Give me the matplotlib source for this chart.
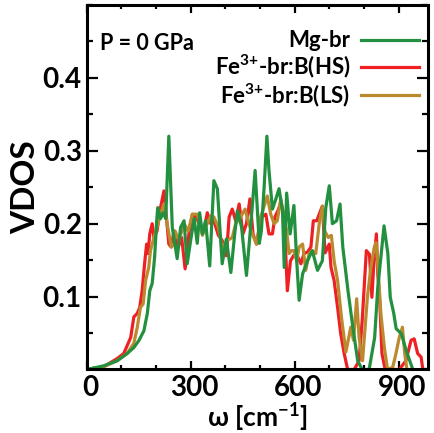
import matplotlib
matplotlib.use("Agg")
from matplotlib import pyplot as plt
from matplotlib.ticker import MultipleLocator, FixedLocator
from matplotlib.transforms import ScaledTranslation

# Mg-br (green)
mg_w = [0, 49, 88, 117, 136, 151, 165, 175, 182, 189, 196, 202, 205, 213, 221, 228,
        237, 247, 261, 271, 281, 290, 300, 310, 319, 326, 334, 343, 355, 367, 377, 391,
        403, 416, 428, 435, 447, 461, 473, 486, 498, 504, 512, 520, 526, 536, 546, 555,
        565, 570, 577, 587, 598, 606, 613, 623, 637, 651, 666, 680, 690, 700, 709, 721,
        731, 739, 754, 768, 782, 795, 815, 831, 840, 850, 858, 869, 876, 886, 893, 908,
        922, 941]
mg_v = [0, 0.005, 0.012, 0.022, 0.03, 0.04, 0.053, 0.077, 0.108, 0.118, 0.154, 0.204, 0.222, 0.207, 0.215, 0.207,
        0.32, 0.195, 0.152, 0.195, 0.204, 0.145, 0.177, 0.207, 0.173, 0.215, 0.186, 0.204, 0.142, 0.259, 0.248, 0.145,
        0.179, 0.133, 0.19, 0.218, 0.195, 0.129, 0.195, 0.273, 0.173, 0.19, 0.25, 0.32, 0.273, 0.22, 0.234, 0.248,
        0.218, 0.14, 0.242, 0.186, 0.225, 0.149, 0.095, 0.131, 0.149, 0.163, 0.136, 0.149, 0.222, 0.252, 0.2, 0.204,
        0.227, 0.168, 0.108, 0.058, 0.012, 0.0, 0.0, 0.044, 0.113, 0.159, 0.197, 0.159, 0.099, 0.077, 0.056, 0.049,
        0.026, 0.0]

# Fe3+-br:B(HS) (red)
hs_w = [0, 50, 88, 107, 127, 136, 146, 153, 160, 167, 173, 177, 182, 189, 194, 203,
        213, 223, 230, 237, 244, 252, 264, 274, 284, 295, 305, 316, 329, 338, 348, 358,
        367, 380, 391, 403, 411, 420, 430, 440, 451, 461, 471, 480, 490, 504, 517, 526,
        536, 543, 552, 560, 570, 579, 588, 603, 618, 627, 637, 647, 654, 664, 671, 680,
        688, 700, 705, 714, 724, 733, 743, 753, 772, 786, 795, 807, 816, 823, 829, 836,
        840, 846, 852, 860, 873, 902, 921, 936, 945, 955, 965, 970]
hs_v = [0, 0.004, 0.015, 0.022, 0.044, 0.072, 0.077, 0.085, 0.108, 0.145, 0.172, 0.159, 0.186, 0.2, 0.181, 0.19,
        0.222, 0.245, 0.209, 0.172, 0.168, 0.19, 0.168, 0.181, 0.138, 0.186, 0.213, 0.209, 0.195, 0.19, 0.215, 0.2,
        0.204, 0.184, 0.177, 0.156, 0.209, 0.22, 0.204, 0.227, 0.186, 0.2, 0.234, 0.186, 0.172, 0.209, 0.213, 0.186,
        0.186, 0.209, 0.218, 0.229, 0.209, 0.108, 0.149, 0.161, 0.145, 0.159, 0.161, 0.168, 0.204, 0.204, 0.213, 0.224,
        0.16, 0.172, 0.14, 0.122, 0.085, 0.049, 0.022, 0.0, 0.0, 0.012, 0.067, 0.163, 0.158, 0.099, 0.149, 0.186,
        0.131, 0.09, 0.022, 0.003, 0.0, 0.0, 0.012, 0.04, 0.042, 0.022, 0.017, 0.0]

# Fe3+-br:B(LS) (gold)
ls_w = [0, 50, 88, 117, 136, 146, 155, 163, 170, 179, 184, 194, 203, 213, 223, 232,
        244, 252, 255, 266, 281, 293, 305, 319, 334, 343, 358, 367, 380, 391, 406, 420,
        430, 444, 457, 468, 478, 490, 502, 514, 521, 531, 541, 550, 560, 568, 577, 584,
        591, 598, 606, 613, 623, 632, 642, 651, 661, 671, 680, 687, 697, 706, 714, 724,
        735, 748, 762, 770, 779, 786, 796, 810, 820, 830, 835, 841, 849, 859, 868, 883,
        892, 902, 911, 918, 924]
ls_v = [0, 0.004, 0.012, 0.022, 0.036, 0.058, 0.085, 0.09, 0.122, 0.14, 0.163, 0.181, 0.195, 0.213, 0.227, 0.2,
        0.168, 0.172, 0.19, 0.177, 0.2, 0.19, 0.213, 0.213, 0.184, 0.195, 0.211, 0.209, 0.195, 0.168, 0.177, 0.181,
        0.2, 0.209, 0.22, 0.2, 0.186, 0.172, 0.209, 0.227, 0.238, 0.213, 0.2, 0.204, 0.234, 0.213, 0.19, 0.159,
        0.163, 0.163, 0.149, 0.168, 0.172, 0.136, 0.159, 0.163, 0.159, 0.2, 0.224, 0.19, 0.181, 0.184, 0.149, 0.122,
        0.072, 0.024, 0.058, 0.04, 0.097, 0.044, 0.012, 0.099, 0.14, 0.168, 0.174, 0.136, 0.076, 0.03, 0.0, 0.003,
        0.021, 0.044, 0.058, 0.021, 0.0]

labels = ["Mg-br", "Fe$^{3{+}}$-br:B(HS)", "Fe$^{3{+}}$-br:B(LS)"]
colors = ["#23903f", "#ee2024", "#bb8a2e"]

plt.rcParams['font.family'] = ['Lato', 'DejaVu Sans']
plt.rcParams['font.weight'] = 'bold'
plt.rcParams['mathtext.fontset'] = 'custom'
plt.rcParams['mathtext.default'] = 'bf'
plt.rcParams['mathtext.rm'] = 'Lato:bold'
plt.rcParams['mathtext.bf'] = 'Lato:bold'

fig = plt.figure(figsize=(4.35, 4.33), dpi=100)
ax = fig.add_axes([0.1993, 0.1467, 0.7847, 0.8418])

l_hs, = ax.plot(hs_w, hs_v, color=colors[1], lw=2.3, label=labels[1])
l_ls, = ax.plot(ls_w, ls_v, color=colors[2], lw=2.3, label=labels[2])
l_mg, = ax.plot(mg_w, mg_v, color=colors[0], lw=2.3, label=labels[0])

ax.set_xlim(0, 985)
ax.set_ylim(0, 0.5)
ax.xaxis.set_major_locator(FixedLocator([0, 300, 600, 900]))
ax.xaxis.set_minor_locator(MultipleLocator(100))
ax.yaxis.set_major_locator(FixedLocator([0.1, 0.2, 0.3, 0.4]))
ax.yaxis.set_minor_locator(MultipleLocator(0.05))
ax.tick_params(axis='both', which='both', direction='in', top=True, right=True,
               width=1.6, labelsize=20)
ax.tick_params(axis='y', which='major', length=8)
ax.tick_params(axis='y', which='minor', length=4.5)
ax.tick_params(axis='x', which='major', length=5.5)
ax.tick_params(axis='x', which='minor', length=3)
ax.tick_params(axis='x', pad=4)
for s in ax.spines.values():
    s.set_linewidth(2.2)

# x tick labels sit a little right of their ticks in the original
for lab in ax.get_xticklabels():
    lab.set_transform(lab.get_transform() + ScaledTranslation(4 / 100, 0, fig.dpi_scale_trans))

ax.set_xlabel("ω [cm$^{-1}$]", fontsize=19, fontweight='bold', labelpad=0)
ax.set_ylabel("VDOS", fontsize=24, fontweight='bold', labelpad=2)

ax.text(0.04, 0.895, "P = 0 GPa", transform=ax.transAxes, fontsize=15.5,
        fontweight='bold', va='center', ha='left')

ax.legend(handles=[l_mg, l_hs, l_ls], loc='upper right', bbox_to_anchor=(0.974, 0.93),
          frameon=False, markerfirst=False, fontsize=16, handlelength=2.6,
          handletextpad=0.5, labelspacing=0.05, borderpad=0, borderaxespad=0)

fig.savefig("out.png", dpi=100)
